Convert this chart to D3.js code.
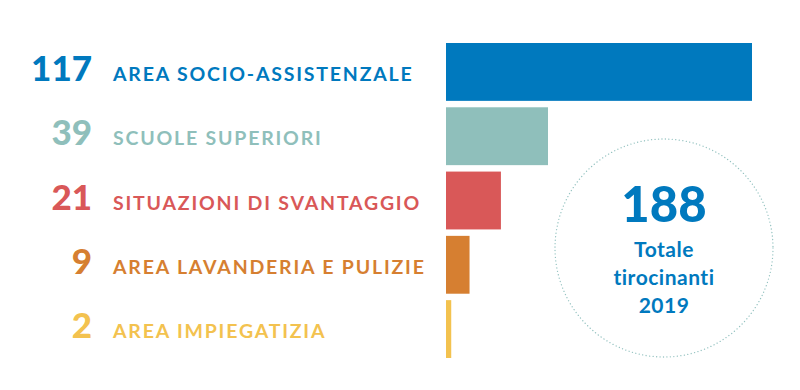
<!DOCTYPE html>
<html>
<head>
<meta charset="utf-8">
<script src="https://cdn.jsdelivr.net/npm/d3@7"></script>
<style>
  body { margin: 0; background: #fff; }
  text { font-family: Lato, "Open Sans", sans-serif; }
</style>
</head>
<body>
<div id="chart"></div>
<script>
// dati
const categories = ["AREA SOCIO-ASSISTENZALE", "SCUOLE SUPERIORI", "SITUAZIONI DI SVANTAGGIO", "AREA LAVANDERIA E PULIZIE", "AREA IMPIEGATIZIA"];
const values = [117, 39, 21, 9, 2];
const colors = ["#0079be", "#8fbfbb", "#d95858", "#d67f31", "#f3c24f"];
const totalValue = 188;
const totalLabel = ["Totale", "tirocinanti", "2019"];

const width = 800;
const height = 390;
const svg = d3.select("#chart").append("svg")
    .attr("width", width)
    .attr("height", height);

// scale
const x = d3.scaleLinear().domain([0, 117]).range([446, 752]);
const y = d3.scaleBand().domain(categories).range([43, 358]).paddingInner(0.1).paddingOuter(0);

// barre
svg.selectAll("rect.bar")
    .data(categories)
    .enter().append("rect")
    .attr("class", "bar")
    .attr("x", x(0))
    .attr("y", d => y(d))
    .attr("width", (d, i) => x(values[i]) - x(0))
    .attr("height", y.bandwidth())
    .attr("fill", (d, i) => colors[i]);

// numeri a sinistra
svg.selectAll("text.num")
    .data(categories)
    .enter().append("text")
    .attr("class", "num")
    .attr("x", 92)
    .attr("y", d => y(d) + y.bandwidth() / 2 + 9)
    .attr("text-anchor", "end")
    .attr("font-size", "35px")
    .attr("font-weight", 900)
    .attr("fill", (d, i) => colors[i])
    .text((d, i) => values[i]);

// etichette
svg.selectAll("text.lab")
    .data(categories)
    .enter().append("text")
    .attr("class", "lab")
    .attr("x", 113)
    .attr("y", d => y(d) + y.bandwidth() / 2 + 9)
    .attr("font-size", "19.5px")
    .attr("font-weight", 700)
    .style("letter-spacing", "1.8px")
    .attr("fill", (d, i) => colors[i])
    .text(d => d);

// cerchio totale
const cx = 664, cy = 248;
svg.append("circle")
    .attr("cx", cx)
    .attr("cy", cy)
    .attr("r", 109)
    .attr("fill", "none")
    .attr("stroke", "#95c3c1")
    .attr("stroke-width", 1.3)
    .attr("stroke-linecap", "round")
    .attr("stroke-dasharray", "0.1,3.4");

svg.append("text")
    .attr("x", cx)
    .attr("y", 222)
    .attr("text-anchor", "middle")
    .attr("font-size", "49px")
    .attr("font-weight", 900)
    .attr("fill", "#0079be")
    .text(totalValue);

svg.selectAll("text.tot")
    .data(totalLabel)
    .enter().append("text")
    .attr("class", "tot")
    .attr("x", cx)
    .attr("y", (d, i) => 257 + i * 28)
    .attr("text-anchor", "middle")
    .attr("font-size", "21px")
    .attr("font-weight", 700)
    .style("letter-spacing", "0.5px")
    .attr("fill", "#0079be")
    .text(d => d);
</script>
</body>
</html>
